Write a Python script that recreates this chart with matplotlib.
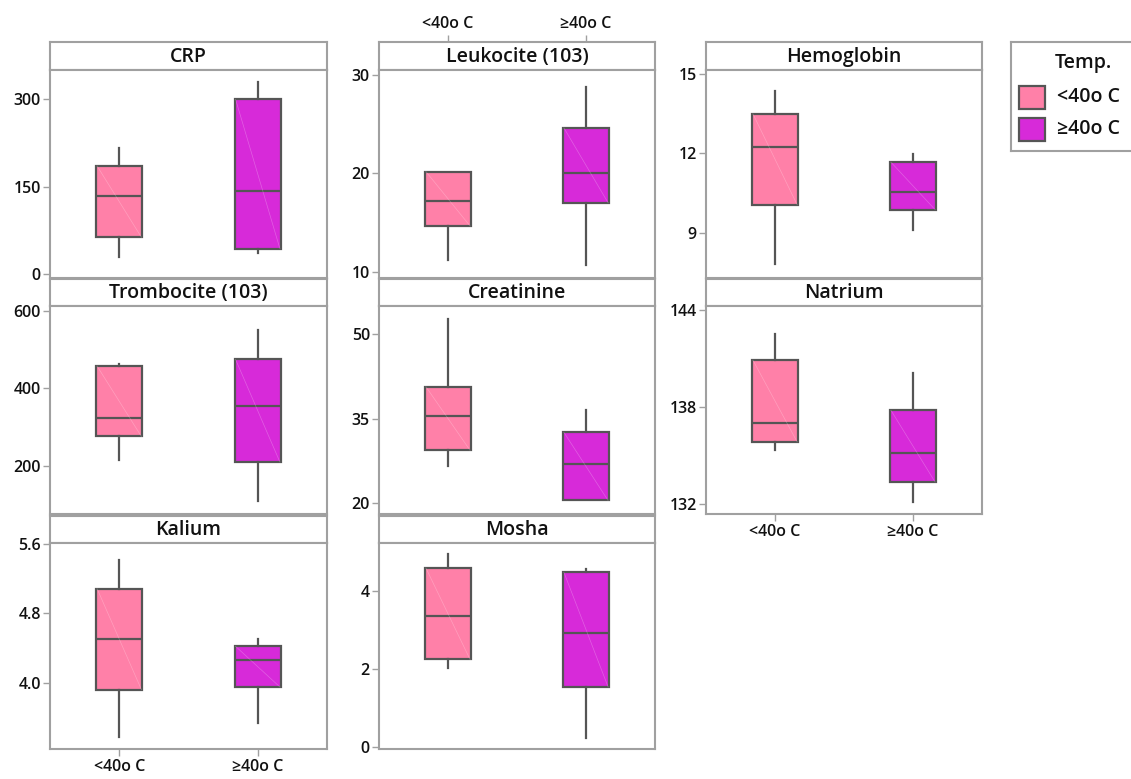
import matplotlib
matplotlib.use("Agg")
import matplotlib.pyplot as plt
from matplotlib.patches import Rectangle

plt.rcParams['font.family'] = ['Open Sans', 'DejaVu Sans']
plt.rcParams['font.weight'] = 'semibold'

# ---- data: box statistics per laboratory parameter and temperature group ----
panels = ["CRP", "Leukocite (103)", "Hemoglobin",
          "Trombocite (103)", "Creatinine", "Natrium",
          "Kalium", "Mosha"]
groups = ["<40o C", "≥40o C"]

lt40_whislo = [28.7, 11.2, 7.8, 217, 26.6, 135.34, 3.37, 2.02]
lt40_q1 = [63, 14.64, 10.06, 276.6, 29.4, 135.85, 3.92, 2.24]
lt40_med = [134, 17.2, 12.25, 322.9, 35.5, 136.98, 4.51, 3.35]
lt40_q3 = [185.6, 20.17, 13.5, 457.6, 40.7, 140.9, 5.087, 4.58]
lt40_whishi = [216, 20.17, 14.37, 461.7, 52.7, 142.5, 5.42, 4.94]

ge40_whislo = [36.6, 10.7, 9.1, 111, 20.5, 132.1, 3.53, 0.24]
ge40_q1 = [43.5, 17.0, 9.87, 211, 20.5, 133.36, 3.95, 1.54]
ge40_med = [142, 20.0, 10.54, 353.7, 26.9, 135.16, 4.26, 2.93]
ge40_q3 = [300, 24.6, 11.67, 474.6, 32.6, 137.8, 4.42, 4.47]
ge40_whishi = [330, 28.8, 11.96, 550, 36.6, 140.1, 4.50, 4.56]

y_ticks = [[0, 150, 300], [10, 20, 30], [9, 12, 15],
           [200, 400, 600], [20, 35, 50], [132, 138, 144],
           [4.0, 4.8, 5.6], [0, 2, 4]]
y_tick_labels = [["0", "150", "300"], ["10", "20", "30"], ["9", "12", "15"],
                 ["200", "400", "600"], ["20", "35", "50"], ["132", "138", "144"],
                 ["4.0", "4.8", "5.6"], ["0", "2", "4"]]
y_limits = [(-7, 350.5), (9.36, 30.48), (7.28, 15.16),
            (77.4, 612), (18.1, 55.03), (131.38, 144.25),
            (3.233, 5.615), (-0.05, 5.22)]

# ---- styling ----
COLORS = ["#FF80A8", "#D72AD9"]
EDGE = "#555555"
FRAME = "#A0A0A0"
TXT = "#111111"
TICK_FS = 11.5
TITLE_FS = 14

W, H = 1131, 779
fig = plt.figure(figsize=(W / 100, H / 100), dpi=100)


def px_axes(x0, y0, x1, y1):
    return fig.add_axes([x0 / W, 1 - y1 / H, (x1 - x0) / W, (y1 - y0) / H])


col_x = [(50, 327), (379, 655), (706, 982)]
row_y = [(42, 70, 278), (279, 306, 514), (516, 543, 749)]

for i, name in enumerate(panels):
    r, c = divmod(i, 3)
    x0, x1 = col_x[c]
    ys, yp, yb = row_y[r]

    # strip with the panel title
    sax = px_axes(x0, ys, x1, yp)
    sax.set_xlim(-0.5, 1.5)
    sax.set_ylim(0, 1)
    sax.set_yticks([])
    sax.set_xticks([])
    for sp in sax.spines.values():
        sp.set_color(FRAME)
        sp.set_linewidth(1.5)
    sax.text(0.5, 0.47, name, transform=sax.transAxes, ha="center", va="center",
             fontsize=TITLE_FS, color=TXT)

    ax = px_axes(x0, yp, x1, yb)
    stats = [
        dict(whislo=lt40_whislo[i], q1=lt40_q1[i], med=lt40_med[i],
             q3=lt40_q3[i], whishi=lt40_whishi[i], fliers=[]),
        dict(whislo=ge40_whislo[i], q1=ge40_q1[i], med=ge40_med[i],
             q3=ge40_q3[i], whishi=ge40_whishi[i], fliers=[]),
    ]
    bp = ax.bxp(stats, positions=[0, 1], widths=0.33, patch_artist=True,
                showcaps=False, showfliers=False,
                boxprops=dict(edgecolor=EDGE, linewidth=1.6),
                medianprops=dict(color=EDGE, linewidth=1.6),
                whiskerprops=dict(color=EDGE, linewidth=1.6))
    for patch, col in zip(bp["boxes"], COLORS):
        patch.set_facecolor(col)
        patch.set_zorder(2)
    # faint diagonal seam across each box face
    for pos, st in zip([0, 1], stats):
        ax.plot([pos - 0.16, pos + 0.16], [st["q3"], st["q1"]],
                color="white", alpha=0.25, linewidth=0.5, zorder=2.5)

    ax.set_xlim(-0.5, 1.5)
    ax.set_ylim(*y_limits[i])
    ax.set_yticks(y_ticks[i])
    ax.set_yticklabels(y_tick_labels[i])
    ax.tick_params(axis="y", direction="out", length=5, width=1, color=FRAME,
                   labelsize=TICK_FS, labelcolor=TXT, pad=1.5)
    for sp in ax.spines.values():
        sp.set_color(FRAME)
        sp.set_linewidth(1.5)

    if name in ("Kalium", "Natrium"):
        ax.set_xticks([0, 1])
        ax.set_xticklabels(groups)
        ax.tick_params(axis="x", direction="out", length=5, width=1, color=FRAME,
                       labelsize=TICK_FS, labelcolor=TXT, pad=2)
    else:
        ax.set_xticks([])

    if name == "Leukocite (103)":
        sax.set_xticks([0, 1])
        sax.set_xticklabels(groups)
        sax.xaxis.tick_top()
        sax.tick_params(axis="x", direction="out", length=5, width=1, color=FRAME,
                        labelsize=TICK_FS, labelcolor=TXT, pad=2)

# ---- legend ----
lax = px_axes(1011, 42, 1140, 151)
lax.set_xlim(0, 129)
lax.set_ylim(109, 0)
lax.set_xticks([])
lax.set_yticks([])
for sp in lax.spines.values():
    sp.set_color(FRAME)
    sp.set_linewidth(1.5)
lax.text(72, 21, "Temp.", ha="center", va="center", fontsize=TITLE_FS, color=TXT)
for k, (lab, col) in enumerate(zip(groups, COLORS)):
    yc = 55 + k * 32
    lax.add_patch(Rectangle((8, yc - 11.5), 26, 23, facecolor=col,
                            edgecolor=EDGE, linewidth=1.6))
    lax.text(46, yc, lab, ha="left", va="center", fontsize=TITLE_FS, color=TXT)

fig.savefig("out.png", dpi=100)
